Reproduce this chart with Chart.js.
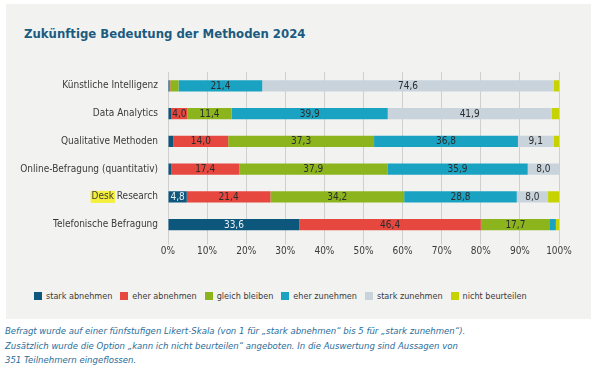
<!DOCTYPE html>
<html>
<head>
<meta charset="utf-8">
<script src="https://cdn.jsdelivr.net/npm/chart.js@4/dist/chart.umd.min.js"></script>
<style>
  html, body { margin: 0; padding: 0; background: #fff; width: 600px; height: 368px; overflow: hidden; }
  body { position: relative; font-family: "DejaVu Sans", sans-serif; font-stretch: condensed; }
  #panel { position: absolute; left: 6px; top: 4px; width: 585px; height: 315px; background: #f2f2f1; }
  #title { position: absolute; left: 18px; top: 22px; font-size: 13px; line-height: 15px; font-weight: bold; color: #1b5b80; white-space: nowrap; }
  #wrap { position: absolute; left: 0; top: 52px; width: 585px; height: 210px; }
  #legend { position: absolute; left: 34px; top: 291px; display: flex; align-items: center; font-size: 9px; color: #3a3a3a; white-space: nowrap; }
  #legend span.box { display: inline-block; width: 8px; height: 8px; margin-right: 4px; }
  #legend span.item { display: inline-flex; align-items: center; margin-right: 8px; }
  #note { position: absolute; left: 5px; top: 324px; font-size: 9.5px; line-height: 14.5px; font-style: italic; color: #2a6d9a; white-space: nowrap; }
</style>
</head>
<body>
<div id="panel">
  <div id="title">Zukünftige Bedeutung der Methoden 2024</div>
  <div id="wrap"><canvas id="methodenChart" width="585" height="210"></canvas></div>
</div>
<div id="legend"></div>
<div id="note">Befragt wurde auf einer fünfstufigen Likert-Skala (von 1 für „stark abnehmen“ bis 5 für „stark zunehmen“).<br>Zusätzlich wurde die Option „kann ich nicht beurteilen“ angeboten. In die Auswertung sind Aussagen von<br>351 Teilnehmern eingeflossen.</div>
<script>
const METHODS = [
    "Künstliche Intelligenz",
    "Data Analytics",
    "Qualitative Methoden",
    "Online-Befragung (quantitativ)",
    "Desk Research",
    "Telefonische Befragung"
];

const SERIES_NAMES = ["stark abnehmen", "eher abnehmen", "gleich bleiben", "eher zunehmen", "stark zunehmen", "nicht beurteilen"];
const SERIES_COLORS = ["#0e577c", "#e6473f", "#8cb41c", "#19a2c2", "#c8d3dc", "#c6d300"];

// values in % per method (same order as METHODS)
const starkAbnehmen   = [0.3, 0.9, 1.4, 0.8, 4.8, 33.6];
const eherAbnehmen    = [0.3, 4.0, 14.0, 17.4, 21.4, 46.4];
const gleichBleiben   = [2.1, 11.4, 37.3, 37.9, 34.2, 17.7];
const eherZunehmen    = [21.4, 39.9, 36.8, 35.9, 28.8, 1.5];
const starkZunehmen   = [74.6, 41.9, 9.1, 8.0, 8.0, 0.0];
const nichtBeurteilen = [1.3, 1.9, 1.4, 0.0, 2.8, 0.8];

const X_TICKS = [0, 10, 20, 30, 40, 50, 60, 70, 80, 90, 100];
const LABEL_MIN = 4;  // smaller segments get no value label

const FONT = '"DejaVu Sans Condensed", "DejaVu Sans", sans-serif';
const seriesValues = [starkAbnehmen, eherAbnehmen, gleichBleiben, eherZunehmen, starkZunehmen, nichtBeurteilen];

// value labels inside the segments
const segmentLabels = {
    id: 'segmentLabels',
    afterDatasetsDraw(chart) {
        const ctx = chart.ctx;
        ctx.save();
        ctx.font = '10px ' + FONT;
        ctx.textAlign = 'center';
        ctx.textBaseline = 'middle';
        chart.data.datasets.forEach((ds, i) => {
            chart.getDatasetMeta(i).data.forEach((bar, j) => {
                const v = ds.data[j];
                if (v < LABEL_MIN) return;
                ctx.fillStyle = i === 0 ? '#e8f2f7' : '#2c2c2c';
                ctx.fillText(v.toFixed(1).replace('.', ','), (bar.x + bar.base) / 2, bar.y + 0.5);
            });
        });
        ctx.restore();
    }
};

// yellow marker behind "Desk"
const deskMarker = {
    id: 'deskMarker',
    beforeDraw(chart) {
        const yScale = chart.scales.y;
        const idx = METHODS.indexOf("Desk Research");
        const ctx = chart.ctx;
        ctx.save();
        ctx.font = Chart.helpers.toFont(yScale.options.ticks.font).string;
        const right = yScale.right - yScale.options.ticks.padding;
        const full = ctx.measureText("Desk Research").width;
        const desk = ctx.measureText("Desk").width;
        const y = yScale.getPixelForTick(idx);
        ctx.fillStyle = '#f4ef3a';
        ctx.fillRect(right - full - 1, y - 6, desk + 2, 12);
        ctx.restore();
    }
};

const ctx = document.getElementById('methodenChart').getContext('2d');
const chart = new Chart(ctx, {
    type: 'bar',
    data: {
        labels: METHODS,
        datasets: SERIES_NAMES.map((name, i) => ({
            label: name,
            data: seriesValues[i],
            backgroundColor: SERIES_COLORS[i],
            borderWidth: 0,
            barPercentage: 0.4,
            categoryPercentage: 1.0
        }))
    },
    options: {
        indexAxis: 'y',
        responsive: false,
        animation: false,
        layout: { padding: { top: 14.5, right: 32, bottom: 0, left: 0 } },
        plugins: {
            legend: { display: false },
            tooltip: { enabled: false }
        },
        scales: {
            x: {
                stacked: true,
                min: 0,
                max: 100,
                afterBuildTicks(scale) { scale.ticks = X_TICKS.map(v => ({ value: v })); },
                afterFit(scale) { scale.height = 27.5; },
                grid: { color: '#cfcfcf', lineWidth: 1, tickLength: 6, drawTicks: true },
                border: { display: false },
                ticks: {
                    color: '#3a3a3a',
                    font: { family: FONT, size: 10 },
                    padding: 1,
                    callback: v => v + '%'
                }
            },
            y: {
                stacked: true,
                afterFit(scale) { scale.width = 162; },
                grid: { display: false, drawTicks: false },
                border: { display: false },
                ticks: {
                    color: '#3a3a3a',
                    font: { family: FONT, size: 10 },
                    padding: 10
                }
            }
        }
    },
    plugins: [deskMarker, segmentLabels]
});

// html legend built from the series
const legend = document.getElementById('legend');
SERIES_NAMES.forEach((name, i) => {
    const item = document.createElement('span');
    item.className = 'item';
    item.innerHTML = '<span class="box" style="background:' + SERIES_COLORS[i] + '"></span>' + name;
    legend.appendChild(item);
});
</script>
</body>
</html>
